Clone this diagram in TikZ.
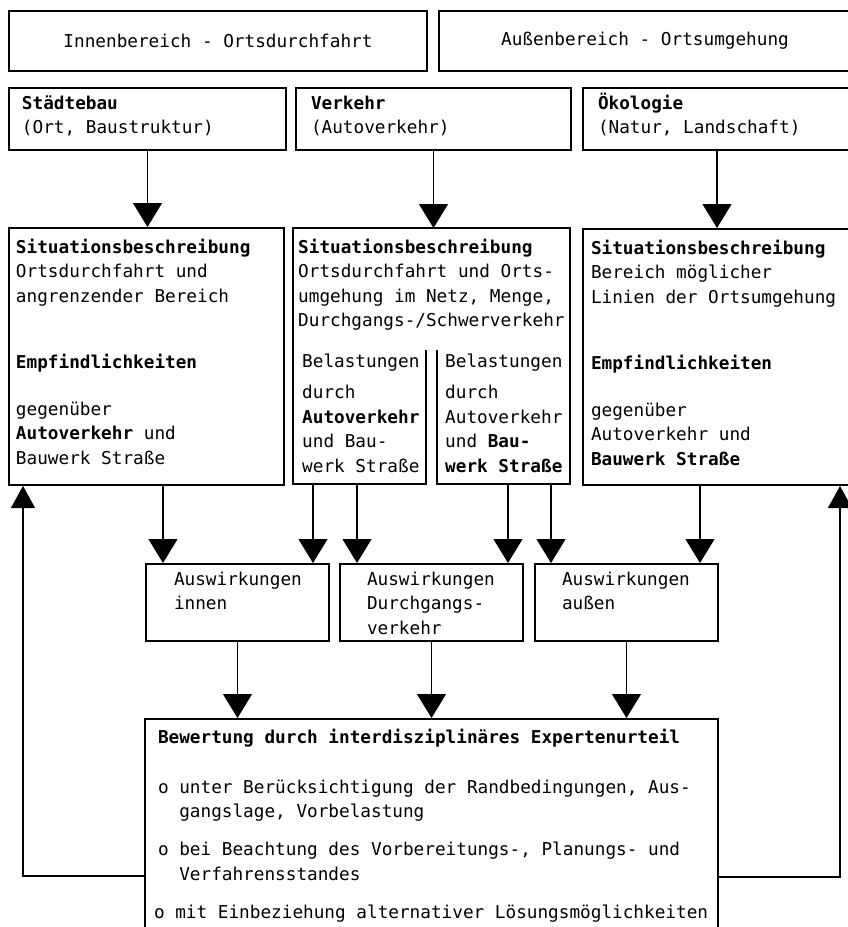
\documentclass[tikz,border=0pt]{standalone}
\usepackage{fontspec}
\setmainfont{DejaVu Sans Mono}
\usepackage{tikz}
\usetikzlibrary{positioning,arrows.meta,calc}

% width, height, left pad, first baseline, text
\newcommand{\boxtext}[5]{\parbox[c][#2pt][t]{#1pt}{\raggedright\leftskip=#3pt\rule{0pt}{#4pt}#5}}

\begin{document}
\begin{tikzpicture}[x=1pt,y=-1pt,
  font=\fontsize{17.7}{24.5}\selectfont,
  box/.style={draw, line width=2pt, anchor=north west, inner sep=0pt},
  plain/.style={anchor=north west, inner sep=0pt},
  frame/.style={draw, line width=2pt, line join=miter},
  arr/.style={line width=1.2pt, -{Triangle[width=29pt,length=24pt]}},
  fb/.style={line width=1.2pt, -{Triangle[width=24pt,length=22pt]}}]

  \useasboundingbox (0,0) rectangle (848,927);
  \clip (0,0) rectangle (848,927);

  % headers
  \node[box, minimum width=418pt, minimum height=60pt] (innen) at (8,10) {Innenbereich - Ortsdurchfahrt};
  \node[box, minimum width=412pt, minimum height=60pt] (aussen) at (438,10) {Außenbereich - Ortsumgehung};

  % disciplines
  \node[box] (stadt) at (8,87) {\boxtext{277}{62}{13}{21}{\textbf{Städtebau}\\(Ort, Baustruktur)}};
  \node[box] (verkehr) at (295,87) {\boxtext{275}{62}{15}{21}{\textbf{Verkehr}\\(Autoverkehr)}};
  \node[box] (oeko) at (582,87) {\boxtext{268}{62}{15}{21}{\textbf{Ökologie}\\(Natur, Landschaft)}};

  % situation
  \node[box] (sit1) at (8,227) {\boxtext{275}{257}{7}{25}{\textbf{Situationsbeschreibung}\\Ortsdurchfahrt und\\angrenzender Bereich\\[41.5pt]\textbf{Empfindlichkeiten}\\[22.5pt]gegenüber\\\textbf{Autoverkehr} und\\Bauwerk Straße}};
  \node[plain] (sit2) at (293,228) {\boxtext{277}{122}{5}{25}{\textbf{Situationsbeschreibung}\\Ortsdurchfahrt und Orts-\\umgehung im Netz, Menge,\\Durchgangs-/Schwerverkehr}};
  \node[plain] (bel1) at (293,350) {\boxtext{133}{134}{9}{17}{Belastungen\\[7pt]durch\\\textbf{Autoverkehr}\\und Bau-\\werk Straße}};
  \node[plain] (bel2) at (437,350) {\boxtext{133}{134}{8}{17}{Belastungen\\[7pt]durch\\Autoverkehr\\und \textbf{Bau-}\\\textbf{werk Straße}}};
  \node[box] (sit3) at (582,228) {\boxtext{268}{256}{8}{25}{\textbf{Situationsbeschreibung}\\Bereich möglicher\\Linien der Ortsumgehung\\[41.5pt]\textbf{Empfindlichkeiten}\\[22.5pt]gegenüber\\Autoverkehr und\\\textbf{Bauwerk Straße}}};

  \path[frame] (bel1.north east) -- (bel1.south east) -- (bel1.south west) -- (sit2.north west)
    -- (sit2.north east) -- (bel2.south east) -- (bel2.south west) -- (bel2.north west);

  % effects
  \node[box] (aus1) at (145,563) {\boxtext{183}{77}{28}{21}{Auswirkungen\\innen}};
  \node[box] (aus2) at (339,563) {\boxtext{183}{77}{27}{21}{Auswirkungen\\Durchgangs-\\verkehr}};
  \node[box] (aus3) at (534,563) {\boxtext{183}{77}{27}{21}{Auswirkungen\\außen}};

  % evaluation
  \node[box] (bew) at (144,718) {\boxtext{573}{230}{13}{24}{\textbf{Bewertung durch interdisziplinäres Expertenurteil}\\[25.5pt]
    o unter Berücksichtigung der Randbedingungen, Aus-\\\phantom{oo}gangslage, Vorbelastung\\[13.5pt]
    o bei Beachtung des Vorbereitungs-, Planungs- und\\\phantom{oo}Verfahrensstandes\\[13.5pt]
    \hspace*{-4pt}\mbox{o mit Einbeziehung alternativer Lösungsmöglichkeiten}}};

  \draw[arr] (stadt.south) -- (stadt.south |- sit1.north);
  \draw[arr] (verkehr.south) -- (verkehr.south |- sit2.north);
  \draw[arr] (oeko.south) -- (oeko.south |- sit3.north);

  \draw[arr] ([xshift=18pt]aus1.north west |- sit1.south) -- ([xshift=18pt]aus1.north west);
  \draw[arr] ([xshift=-17pt]aus1.north east |- bel1.south) -- ([xshift=-17pt]aus1.north east);
  \draw[arr] ([xshift=18pt]aus2.north west |- bel1.south) -- ([xshift=18pt]aus2.north west);
  \draw[arr] ([xshift=-16pt]aus2.north east |- bel2.south) -- ([xshift=-16pt]aus2.north east);
  \draw[arr] ([xshift=17pt]aus3.north west |- bel2.south) -- ([xshift=17pt]aus3.north west);
  \draw[arr] ([xshift=-19pt]aus3.north east |- sit3.south) -- ([xshift=-19pt]aus3.north east);

  \draw[arr] (aus1.south) -- (aus1.south |- bew.north);
  \draw[arr] (aus2.south) -- (aus2.south |- bew.north);
  \draw[arr] (aus3.south) -- (aus3.south |- bew.north);

  \draw[fb] ([yshift=-158pt]bew.north west) -| ([xshift=15pt]sit1.south west);
  \draw[fb] ([yshift=-159pt]bew.north east) -| ([xshift=-12pt]sit3.south east);

\end{tikzpicture}
\end{document}
